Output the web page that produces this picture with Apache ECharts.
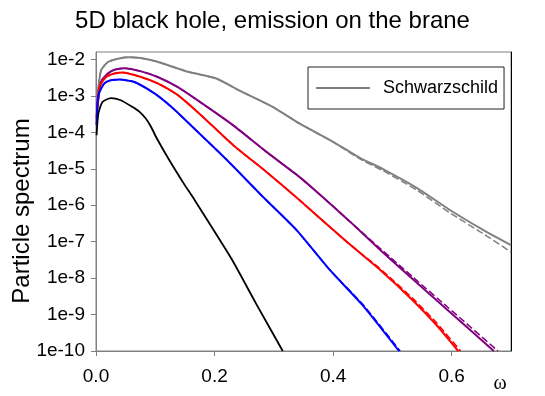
<!DOCTYPE html>
<html>
<head>
<meta charset="utf-8">
<script src="https://cdn.jsdelivr.net/npm/echarts@6/dist/echarts.min.js"></script>
<style>
  html, body { margin: 0; padding: 0; background: #fff; }
  #chart { width: 545px; height: 396px; }
</style>
</head>
<body>
<div id="chart"></div>
<script>
// spectra, [omega, value]
const schwarzschild = [[0.0015, 1.0e-3], [0.003, 1.3e-3], [0.0085, 5.0e-3], [0.02, 8.5e-3], [0.037, 1.05e-2],
  [0.056, 1.15e-2], [0.075, 1.1e-2], [0.101, 8.9e-3], [0.157, 4.5e-3], [0.203, 3.0e-3], [0.242, 1.4e-3],
  [0.298, 5.0e-4], [0.343, 1.75e-4], [0.4, 5.5e-5], [0.445, 2.0e-5], [0.484, 9.8e-6], [0.541, 3.0e-6],
  [0.597, 7.4e-7], [0.653, 2.1e-7], [0.70, 8.0e-8]];
const schwarzschildDash = [[0.0015, 1.0e-3], [0.003, 1.3e-3], [0.0085, 5.0e-3], [0.02, 8.5e-3], [0.037, 1.05e-2],
  [0.056, 1.15e-2], [0.075, 1.1e-2], [0.101, 8.9e-3], [0.157, 4.5e-3], [0.203, 3.0e-3], [0.242, 1.4e-3],
  [0.298, 5.0e-4], [0.343, 1.75e-4], [0.4, 5.4e-5], [0.445, 1.86e-5], [0.484, 8.9e-6], [0.541, 2.6e-6],
  [0.597, 6.2e-7], [0.653, 1.66e-7], [0.70, 5.2e-8]];
const purple = [[0.0017, 3.6e-4], [0.0085, 2.4e-3], [0.02, 4.1e-3], [0.031, 5.2e-3], [0.048, 5.75e-3],
  [0.076, 4.7e-3], [0.104, 3.3e-3], [0.138, 1.74e-3], [0.174, 7.1e-4], [0.231, 1.58e-4], [0.287, 2.95e-5],
  [0.343, 6.0e-6], [0.377, 2.0e-6], [0.428, 3.6e-7], [0.479, 6.0e-8], [0.535, 9.1e-9], [0.592, 1.38e-9],
  [0.671, 1.0e-10]];
const purpleDash = [[0.0017, 3.6e-4], [0.0085, 2.4e-3], [0.02, 4.1e-3], [0.031, 5.2e-3], [0.048, 5.75e-3],
  [0.076, 4.7e-3], [0.104, 3.3e-3], [0.138, 1.74e-3], [0.174, 7.1e-4], [0.231, 1.58e-4], [0.287, 2.95e-5],
  [0.343, 6.0e-6], [0.377, 2.0e-6], [0.428, 3.6e-7], [0.479, 6.6e-8], [0.535, 1.05e-8], [0.592, 1.66e-9],
  [0.678, 1.0e-10]];
const red = [[0.001, 2.5e-4], [0.0056, 1.74e-3], [0.017, 3.3e-3], [0.031, 4.1e-3], [0.045, 4.4e-3],
  [0.076, 3.3e-3], [0.104, 2.2e-3], [0.138, 1.05e-3], [0.174, 3.3e-4], [0.231, 4.5e-5], [0.287, 8.3e-6],
  [0.343, 1.4e-6], [0.422, 1.02e-7], [0.479, 1.7e-8], [0.535, 2.4e-9], [0.575, 5.0e-10], [0.611, 1.0e-10]];
const redDash = [[0.001, 2.5e-4], [0.0056, 1.74e-3], [0.017, 3.3e-3], [0.031, 4.1e-3], [0.045, 4.4e-3],
  [0.076, 3.3e-3], [0.104, 2.2e-3], [0.138, 1.05e-3], [0.174, 3.3e-4], [0.231, 4.5e-5], [0.287, 8.3e-6],
  [0.343, 1.4e-6], [0.422, 1.02e-7], [0.479, 1.82e-8], [0.535, 2.7e-9], [0.575, 5.8e-10], [0.615, 1.0e-10]];
const blue = [[0.001, 1.6e-4], [0.004, 1.05e-3], [0.014, 2.2e-3], [0.025, 2.7e-3], [0.04, 2.8e-3],
  [0.065, 2.4e-3], [0.101, 1.1e-3], [0.127, 5.0e-4], [0.157, 1.74e-4], [0.22, 1.8e-5], [0.281, 1.74e-6],
  [0.338, 2.1e-7], [0.394, 1.7e-8], [0.451, 1.7e-9], [0.511, 1.0e-10]];
const blueDash = [[0.001, 1.6e-4], [0.004, 1.05e-3], [0.014, 2.2e-3], [0.025, 2.7e-3], [0.04, 2.8e-3],
  [0.065, 2.4e-3], [0.101, 1.1e-3], [0.127, 5.0e-4], [0.157, 1.74e-4], [0.22, 1.8e-5], [0.281, 1.74e-6],
  [0.338, 2.1e-7], [0.394, 1.7e-8], [0.451, 1.82e-9], [0.513, 1.0e-10]];
const black = [[0.001, 8.3e-5], [0.004, 3.3e-4], [0.011, 6.8e-4], [0.025, 8.7e-4], [0.042, 7.6e-4],
  [0.061, 5.0e-4], [0.073, 3.7e-4], [0.084, 2.4e-4], [0.093, 1.4e-4], [0.102, 7.1e-5], [0.1235, 1.74e-5],
  [0.15, 3.5e-6], [0.161, 1.9e-6], [0.228, 3.5e-8], [0.27, 2.0e-9], [0.315, 1.0e-10]];

const font = '"Liberation Sans", Arial, sans-serif';

const line = (name, data, color, width, dashed) => ({
  name: name,
  type: 'line',
  data: data,
  symbol: 'none',
  showSymbol: false,
  smooth: 0.2,
  silent: true,
  z: dashed ? 2 : 3,
  lineStyle: { color: color, width: width, type: dashed ? [7, 3] : 'solid' },
  itemStyle: { color: color }
});

const chart = echarts.init(document.getElementById('chart'));
chart.setOption({
  animation: false,
  backgroundColor: '#fff',
  title: {
    text: '5D black hole, emission on the brane',
    left: 'center',
    top: 4,
    textStyle: { fontFamily: font, fontSize: 24, fontWeight: 'normal', color: '#000' }
  },
  legend: {
    data: [{ name: 'Schwarzschild', icon: 'rect' }],
    left: 308,
    top: 67,
    padding: [12, 6, 12, 8],
    itemWidth: 54,
    itemHeight: 2,
    borderColor: '#222',
    borderWidth: 1,
    textStyle: { fontFamily: font, fontSize: 18, color: '#000', padding: [0, 0, 0, 8] }
  },
  grid: { left: 96, right: 34, top: 52, bottom: 45, show: true, borderColor: '#808080', borderWidth: 1 },
  xAxis: {
    type: 'value',
    min: 0,
    max: 0.7,
    interval: 0.2,
    axisLine: { lineStyle: { color: '#808080' } },
    axisTick: { length: 5, lineStyle: { color: '#808080' } },
    splitLine: { show: false },
    axisLabel: {
      showMaxLabel: false,
      margin: 16,
      fontFamily: font, fontSize: 19, color: '#000',
      formatter: v => v.toFixed(1)
    }
  },
  yAxis: [{
    type: 'log',
    logBase: 10,
    min: 1e-10,
    max: 0.016,
    interval: 1,
    splitNumber: 10,
    axisLine: { show: true, lineStyle: { color: '#808080' } },
    axisTick: { length: 5, lineStyle: { color: '#808080' } },
    splitLine: { show: false },
    axisLabel: {
      showMaxLabel: false,
      margin: 11,
      fontFamily: font, fontSize: 19, color: '#000',
      formatter: v => '1e' + Math.round(Math.log10(v))
    }
  }, {
    type: 'value',
    position: 'right',
    min: 0, max: 1,
    axisLine: { show: true, lineStyle: { color: '#000' } },
    axisTick: { show: false },
    axisLabel: { show: false },
    splitLine: { show: false }
  }],
  graphic: [{
    type: 'text',
    x: 22, y: 211,
    rotation: Math.PI / 2,
    style: { text: 'Particle spectrum', font: '24px ' + font, fill: '#000', textAlign: 'center', textVerticalAlign: 'middle' }
  }, {
    type: 'text',
    x: 500, y: 384,
    style: { text: 'ω', font: '20px "Liberation Serif", "DejaVu Serif", serif', fill: '#000', textAlign: 'center', textVerticalAlign: 'middle' }
  }],
  series: [
    line('Schwarzschild dashed', schwarzschildDash, '#808080', 1.5, true),
    line('Schwarzschild', schwarzschild, '#808080', 2, false),
    line('purple dashed', purpleDash, '#800080', 1.5, true),
    line('purple', purple, '#800080', 2, false),
    line('red dashed', redDash, '#ff0000', 1.5, true),
    line('red', red, '#ff0000', 2, false),
    line('blue dashed', blueDash, '#0000ff', 1.5, true),
    line('blue', blue, '#0000ff', 2, false),
    line('black', black, '#000000', 1.8, false)
  ]
});
</script>
</body>
</html>
